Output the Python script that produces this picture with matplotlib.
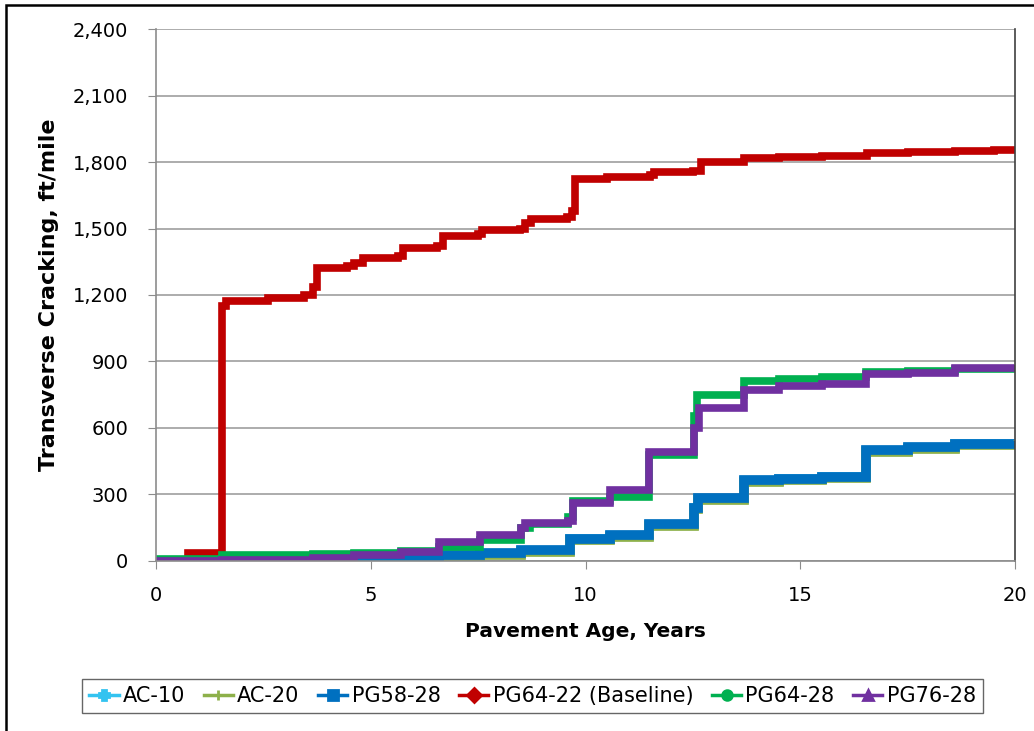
import matplotlib
matplotlib.use("Agg")
import matplotlib.pyplot as plt
import matplotlib.patches as patches
from matplotlib.lines import Line2D
from matplotlib.ticker import FuncFormatter, MultipleLocator

# step breakpoints (age in years, cracking in ft/mile)
red_age = [0, 0.75, 1.54, 1.62, 2.6, 3.45, 3.66, 3.75, 4.45, 4.6, 4.83, 5.64, 5.76,
           6.55, 6.69, 7.5, 7.6, 8.48, 8.6, 8.72, 9.58, 9.68, 9.75, 10.5, 11.5, 11.6,
           12.5, 12.68, 13.68, 14.5, 15.5, 16.55, 17.5, 18.6, 19.5, 20]
red_val = [5, 36, 1150, 1172, 1186, 1200, 1236, 1320, 1330, 1345, 1367, 1375, 1412,
           1420, 1468, 1475, 1492, 1500, 1525, 1545, 1552, 1580, 1722, 1732, 1740, 1755,
           1760, 1800, 1820, 1824, 1828, 1842, 1845, 1850, 1852, 1855]

green_age = [0, 1.54, 3.66, 4.6, 5.7, 6.6, 7.55, 8.5, 8.7, 9.6, 9.7, 10.58, 11.47,
             12.52, 12.6, 13.68, 14.5, 15.5, 16.52, 17.5, 18.6, 20]
green_val = [10, 25, 33, 38, 45, 62, 95, 150, 165, 200, 272, 290, 480,
             655, 748, 812, 822, 830, 852, 858, 868, 875]

purple_age = [0, 1.54, 3.66, 4.6, 5.7, 6.6, 7.55, 8.5, 8.6, 9.6, 9.7, 10.58, 11.47,
              12.52, 12.65, 13.68, 14.5, 15.5, 16.52, 17.5, 18.6, 20]
purple_val = [0, 5, 15, 25, 40, 85, 115, 150, 170, 180, 262, 318, 490,
              600, 690, 770, 790, 800, 845, 850, 872, 885]

blue_age = [0, 3.66, 5.7, 6.6, 7.55, 8.5, 9.65, 10.58, 11.47, 12.52, 12.62, 13.68,
            14.5, 15.5, 16.52, 17.5, 18.6, 20]
pg5828_val = [0, 5, 12, 25, 35, 48, 100, 115, 165, 240, 282, 365,
              372, 380, 500, 512, 528, 540]
ac10_val = [0, 4, 10, 23, 33, 46, 98, 113, 163, 238, 280, 363,
            370, 378, 498, 510, 526, 538]
ac20_val = [0, 2, 7, 19, 29, 42, 93, 108, 158, 233, 275, 358,
            365, 373, 493, 505, 521, 533]

labels = ["AC-10", "AC-20", "PG58-28", "PG64-22 (Baseline)", "PG64-28", "PG76-28"]
colors = ["#33C3F0", "#8DB04A", "#0070C0", "#C00000", "#00B050", "#7030A0"]
markers = ["P", "+", "s", "D", "o", "^"]

series = [(blue_age, ac10_val), (blue_age, ac20_val), (blue_age, pg5828_val),
          (red_age, red_val), (green_age, green_val), (purple_age, purple_val)]
widths = [7.0, 7.0, 7.0, 5.5, 5.5, 5.5]

fig = plt.figure(figsize=(10.34, 7.31), dpi=100)
ax = fig.add_axes([0.1509, 0.2326, 0.8307, 0.7277])

for (x, y), c, w in zip(series, colors, widths):
    ax.plot(x, y, color=c, lw=w, drawstyle="steps-post",
            solid_joinstyle="miter", solid_capstyle="butt")

ax.set_xlim(0, 20)
ax.set_ylim(0, 2400)
ax.xaxis.set_major_locator(MultipleLocator(5))
ax.yaxis.set_major_locator(MultipleLocator(300))
ax.yaxis.set_major_formatter(FuncFormatter(lambda v, p: f"{int(v):,}"))
ax.grid(axis="y", color="#A6A6A6", lw=1.3)
ax.set_axisbelow(True)

for s in ["left", "bottom"]:
    ax.spines[s].set_color("#8C8C8C")
    ax.spines[s].set_linewidth(1.2)
ax.spines["right"].set_color("#404040")
ax.spines["right"].set_linewidth(1.2)
ax.spines["top"].set_visible(False)
ax.tick_params(axis="both", direction="out", length=6, color="#8C8C8C",
               labelsize=14)
ax.tick_params(axis="y", pad=14)
ax.tick_params(axis="x", pad=12)

ax.set_xlabel("Pavement Age, Years", fontsize=14.5, fontweight="bold", labelpad=12)
ax.set_ylabel("Transverse Cracking, ft/mile", fontsize=16, fontweight="bold", labelpad=10)

handles = [Line2D([], [], color=c, lw=2.5, marker=m, markersize=7, markeredgewidth=2)
           for c, m in zip(colors, markers)]
leg = fig.legend(handles, labels, loc="center", bbox_to_anchor=(0.515, 0.048), ncol=6,
                 frameon=True, fancybox=False, edgecolor="#404040",
                 handlelength=1.4, handletextpad=0.2, columnspacing=0.9,
                 borderpad=0.35, prop={"family": "DejaVu Sans", "size": 15})
leg.get_frame().set_linewidth(1.0)

# outer chart border
fig.patches.append(patches.Rectangle((0.0058, -0.02), 1.1, 1.0131, transform=fig.transFigure,
                                     fill=False, edgecolor="black", lw=1.8))

fig.savefig("out.png", dpi=100)
